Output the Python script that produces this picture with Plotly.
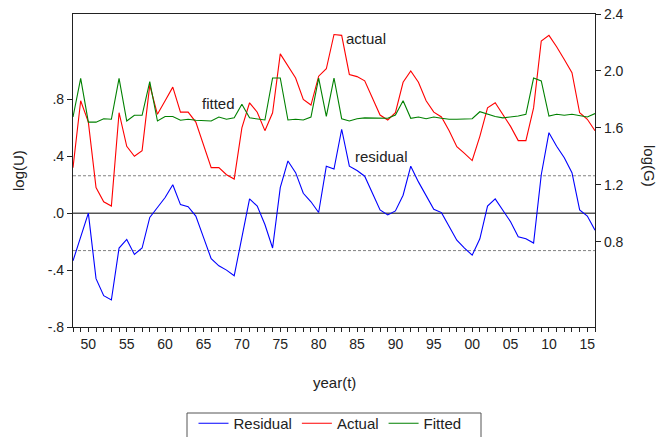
import plotly.graph_objects as go

years = list(range(1948, 2017))

residual = [-0.335, -0.17, 0.0, -0.46, -0.58, -0.61, -0.245, -0.185, -0.29, -0.245,
            -0.03, 0.04, 0.11, 0.20, 0.06, 0.046, -0.02, -0.17, -0.32, -0.37,
            -0.40, -0.44, -0.17, 0.10, 0.05, -0.08, -0.245, 0.18, 0.367, 0.285,
            0.14, 0.08, 0.005, 0.33, 0.31, 0.59, 0.33, 0.30, 0.26, 0.145,
            0.023, -0.012, 0.016, 0.126, 0.33, 0.22, 0.12, 0.028, 0.004, -0.09,
            -0.19, -0.245, -0.295, -0.18, 0.05, 0.10, 0.016, -0.06, -0.166, -0.18,
            -0.21, 0.27, 0.566, 0.47, 0.39, 0.285, 0.023, -0.02, -0.12]

actual = [1.32, 1.79, 1.64, 1.18, 1.08, 1.05, 1.706, 1.47, 1.40, 1.44,
          1.90, 1.695, 1.79, 1.886, 1.71, 1.71, 1.64, 1.48, 1.32, 1.32,
          1.27, 1.24, 1.60, 1.776, 1.71, 1.58, 1.706, 2.12, 2.03, 1.95,
          1.80, 1.76, 1.963, 2.015, 2.256, 2.25, 1.975, 1.96, 1.93, 1.81,
          1.69, 1.655, 1.706, 1.92, 2.0, 1.92, 1.79, 1.71, 1.676, 1.58,
          1.467, 1.42, 1.37, 1.54, 1.74, 1.776, 1.695, 1.61, 1.51, 1.51,
          1.74, 2.21, 2.25, 2.17, 2.08, 1.987, 1.706, 1.66, 1.58]

fitted = [1.676, 1.947, 1.64, 1.64, 1.664, 1.66, 1.947, 1.648, 1.688, 1.688,
          1.924, 1.648, 1.68, 1.68, 1.653, 1.66, 1.653, 1.648, 1.648, 1.676,
          1.66, 1.67, 1.765, 1.67, 1.66, 1.655, 1.95, 1.95, 1.655, 1.66,
          1.655, 1.676, 1.95, 1.68, 1.95, 1.664, 1.648, 1.664, 1.67, 1.67,
          1.667, 1.667, 1.69, 1.79, 1.667, 1.676, 1.664, 1.676, 1.667, 1.66,
          1.66, 1.66, 1.664, 1.713, 1.695, 1.68, 1.67, 1.676, 1.683, 1.695,
          1.95, 1.93, 1.683, 1.695, 1.688, 1.695, 1.683, 1.676, 1.70]

resid_sd = 0.263

left_tickvals = [-0.8, -0.4, 0.0, 0.4, 0.8]
left_ticktext = ["-.8", "-.4", ".0", ".4", ".8"]
right_tickvals = [0.8, 1.2, 1.6, 2.0, 2.4]
right_ticktext = ["0.8", "1.2", "1.6", "2.0", "2.4"]
x_ticktext = [("%02d" % (y % 100)) if y % 5 == 0 else "" for y in years]

FONT = "Liberation Sans, Arial, sans-serif"

# plot area in pixels (for placing outside texts)
PL, PR, PT, PB = 73, 595, 14, 327


def px_to_paper_x(px):
    return (px - PL) / (PR - PL)


def px_to_paper_y(py):
    return (PB - py) / (PB - PT)


fig = go.Figure()

fig.add_trace(go.Scatter(x=[years[0], years[-1]], y=[0, 0], mode="lines",
                         line=dict(color="#555555", width=1.4), showlegend=False,
                         hoverinfo="skip", yaxis="y"))
for s in (resid_sd, -resid_sd):
    fig.add_trace(go.Scatter(x=[years[0], years[-1]], y=[s, s], mode="lines",
                             line=dict(color="#808080", width=1, dash="3px,2px"),
                             showlegend=False, hoverinfo="skip", yaxis="y"))

fig.add_trace(go.Scatter(x=years, y=residual, mode="lines", name="Residual",
                         line=dict(color="#0000FF", width=1.1), yaxis="y"))
fig.add_trace(go.Scatter(x=years, y=actual, mode="lines", name="Actual",
                         line=dict(color="#FF0000", width=1.1), yaxis="y2"))
fig.add_trace(go.Scatter(x=years, y=fitted, mode="lines", name="Fitted",
                         line=dict(color="#008000", width=1.1), yaxis="y2"))

fig.update_layout(
    width=660, height=437,
    margin=dict(l=PL, r=660 - PR, t=PT, b=437 - PB, autoexpand=False),
    paper_bgcolor="white", plot_bgcolor="white",
    font=dict(family=FONT, size=14, color="#222222"),
    xaxis=dict(range=[1948, 2016], tickvals=years, ticktext=x_ticktext,
               ticks="outside", ticklen=4, tickcolor="#222222",
               showline=True, linecolor="#222222", linewidth=1.2, mirror=True,
               showgrid=False, zeroline=False, automargin=False),
    yaxis=dict(range=[-0.8, 1.4], tickvals=left_tickvals, ticktext=left_ticktext,
               ticks="outside", ticklen=5, tickcolor="#222222",
               showline=True, linecolor="#222222", linewidth=1.2,
               showgrid=False, zeroline=False, automargin=False),
    yaxis2=dict(range=[0.2, 2.4], tickvals=right_tickvals, ticktext=right_ticktext,
                overlaying="y", side="right",
                ticks="outside", ticklen=5, tickcolor="#222222",
                showline=True, linecolor="#222222", linewidth=1.2,
                showgrid=False, zeroline=False, automargin=False),
    legend=dict(orientation="h", x=px_to_paper_x(330), xanchor="center",
                y=px_to_paper_y(407), yanchor="top",
                borderwidth=0, font=dict(size=15),
                bgcolor="rgba(0,0,0,0)"),
    shapes=[
        dict(type="rect", xref="paper", yref="paper",
             x0=px_to_paper_x(187), x1=px_to_paper_x(481),
             y0=px_to_paper_y(413), y1=px_to_paper_y(445),
             line=dict(color="#555555", width=1), fillcolor="rgba(0,0,0,0)",
             layer="below"),
    ],
    annotations=[
        dict(text="actual", x=1986.2, y=1.23, xref="x", yref="y", showarrow=False,
             font=dict(size=15)),
        dict(text="fitted", x=1966.9, y=0.774, xref="x", yref="y", showarrow=False,
             font=dict(size=15)),
        dict(text="residual", x=1988.2, y=0.395, xref="x", yref="y", showarrow=False,
             font=dict(size=15)),
        dict(text="year(t)", x=px_to_paper_x(334), y=px_to_paper_y(382),
             xref="paper", yref="paper", showarrow=False, font=dict(size=15),
             xanchor="center", yanchor="middle"),
        dict(text="log(U)", x=px_to_paper_x(18), y=px_to_paper_y(171),
             xref="paper", yref="paper", showarrow=False, font=dict(size=15),
             textangle=-90, xanchor="center", yanchor="middle"),
        dict(text="log(G)", x=px_to_paper_x(650), y=px_to_paper_y(166),
             xref="paper", yref="paper", showarrow=False, font=dict(size=15),
             textangle=90, xanchor="center", yanchor="middle"),
    ],
)

fig.write_html("out.html")
